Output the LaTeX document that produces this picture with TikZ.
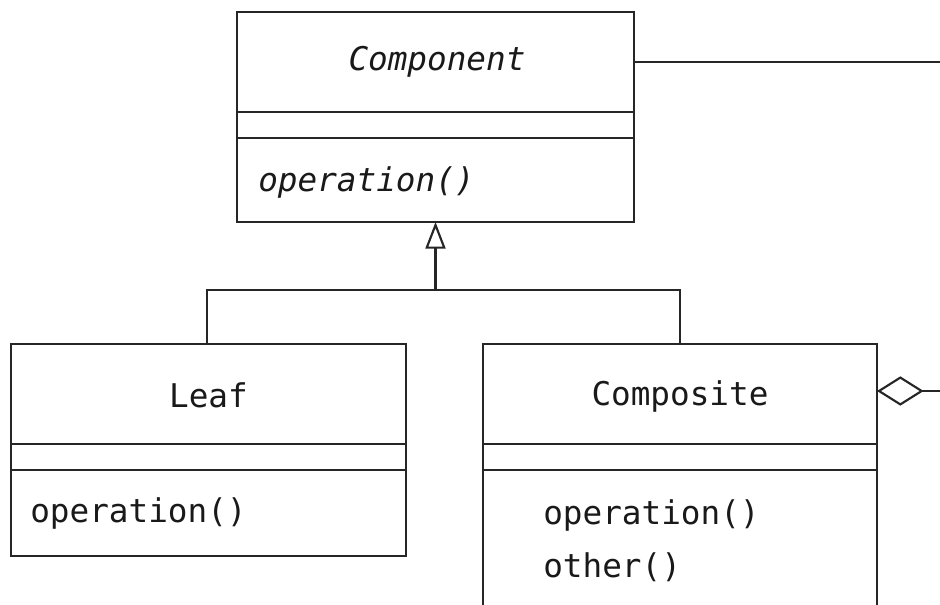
\documentclass[tikz,border=0pt]{standalone}
\usepackage{fontspec}
\setmonofont{DejaVu Sans Mono}
\usetikzlibrary{arrows.meta,positioning,calc}

\begin{document}
\begin{tikzpicture}[
	%	style def
    x=0.75pt, y=-0.75pt,
    class line/.style={line width=1.6pt, black!85},
    class text/.style={font=\fontsize{24.5}{28}\selectfont\ttfamily, inner sep=0pt, color=black!90},
    abstract text/.style={class text, font=\fontsize{24.5}{28}\selectfont\ttfamily\itshape},
    member/.style={class text, anchor=west},
    inherit/.style={class line, -{Triangle[open, length=20pt, width=15pt, line width=1.6pt]}},
    aggregate/.style={class line, -{Diamond[open, length=35pt, width=22pt, line width=1.6pt]}}
    ]
    \useasboundingbox (0,0) rectangle (940,605);

	% component class
	\draw[class line] (237,12) coordinate (compNW) rectangle (634,222) coordinate (compSE);
	\draw[class line] (237,112) coordinate (compA) -- (634,112);
	\draw[class line] (237,138) coordinate (compB) -- (634,138);
	\node[abstract text] (compName) at (437,62) {Component};
	\node[abstract text, anchor=west] (compOp) at (258,182) {operation()};

	% leaf class
	\draw[class line] (11,344) coordinate (leafNW) rectangle (406,556) coordinate (leafSE);
	\draw[class line] (11,444) -- (406,444);
	\draw[class line] (11,470) -- (406,470);
	\node[class text] (leafName) at (208.5,395) {Leaf};
	\node[member] (leafOp) at (30,513) {operation()};

	% composite class (runs off the bottom)
	\draw[class line] (483,605) -- (483,344) coordinate (compoNW) -- (877,344) coordinate (compoNE) -- (877,605);
	\draw[class line] (483,444) -- (877,444);
	\draw[class line] (483,470) -- (877,470);
	\node[class text] (compoName) at (680,396) {Composite};
	\node[member] (compoOp) at (543,515) {operation()};
	\node[member] (compoOther) at (543,567) {other()};

	% inheritance tree
	\coordinate (compBottom) at (435.5,222);
	\coordinate (fork) at (435.5,290);
	\coordinate (leafTop) at (207,344);
	\coordinate (compoTop) at (680,344);
	\draw[inherit] (fork) -- (compBottom);
	\draw[class line] (leafTop) -- (leafTop |- fork) -- (compoTop |- fork) -- (compoTop);

	% links leaving the picture
	\coordinate (compLink) at (634,62);
	\coordinate (childEnd) at (940,62);
	\draw[class line] (compLink) -- (childEnd);
	\coordinate (compoLink) at (877,391);
	\coordinate (aggEnd) at (940,391);
	\draw[aggregate] (aggEnd) -- (compoLink);
\end{tikzpicture}
\end{document}
